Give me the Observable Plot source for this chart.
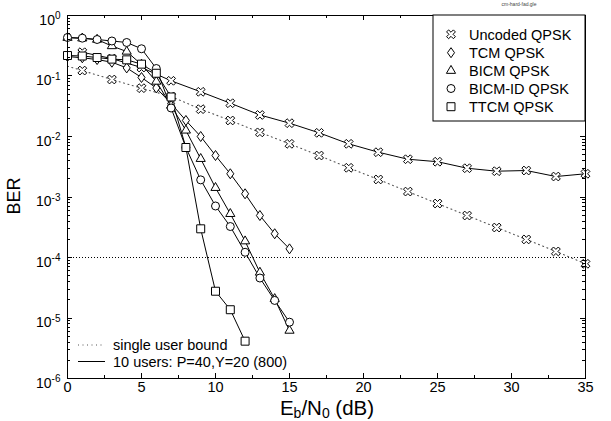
<!DOCTYPE html>
<html><head><meta charset="utf-8">
<script src="https://cdn.jsdelivr.net/npm/d3@7"></script>
<script src="https://cdn.jsdelivr.net/npm/@observablehq/plot@0.6"></script>
<style>
body{margin:0;background:#fff;}
#chart svg{display:block;font-family:"Liberation Sans",Arial,Helvetica,sans-serif;}
</style>
</head><body><div id="chart"></div>
<script>
// ---- data ----
const xCoded = [0,1,2,3,4,5,6,7,8,9,10,11,12,13,14,15];
const tcm    = [0.21,0.20,0.187,0.169,0.136,0.0945,0.0633,0.035,0.0184,0.0100,0.00485,0.00242,0.00113,0.000494,0.000247,0.000139];
const bicm   = [0.43,0.42,0.40,0.313,0.254,0.155,0.081,0.0325,0.0126,0.00428,0.00142,0.000527,0.000186,0.0000565,0.0000207,0.0000062];
const bicmId = [0.433,0.422,0.401,0.379,0.358,0.282,0.133,0.0296,0.00658,0.00192,0.00071,0.000325,0.000122,0.0000458,0.0000195,0.00000853];
const xTtcm  = [0,1,2,3,4,5,6,7,8,9,10,11,12];
const ttcm   = [0.218,0.214,0.202,0.19,0.185,0.157,0.111,0.045,0.00658,0.000298,0.0000277,0.0000137,0.00000414];
const xUncoded = [1,3,5,7,9,11,13,15,17,19,21,23,25,27,29,31,33,35];
const uncoded10 = [0.247,0.194,0.138,0.0833,0.0548,0.0355,0.0227,0.0166,0.0115,0.00757,0.0055,0.00421,0.00383,0.00299,0.00267,0.00274,0.00218,0.00242];
const xSingle = [0,1,3,5,7,9,11,13,15,17,19,21,23,25,27,29,31,33,35];
const uncodedSingle = [0.145,0.123,0.0875,0.0629,0.0458,0.0283,0.0184,0.0117,0.00757,0.00485,0.00304,0.00195,0.00123,0.00078,0.000494,0.000313,0.000199,0.000126,0.0000787];
const boundLevel = [1e-4];
const seriesNames = ["Uncoded QPSK","TCM QPSK","BICM QPSK","BICM-ID QPSK","TTCM QPSK"];
const styleNames = ["single user bound","10 users: P=40,Y=20 (800)"];
const xTickLabels = [0,5,10,15,20,25,30,35];
const yTickValues = [1,1e-1,1e-2,1e-3,1e-4,1e-5,1e-6];

// ---- custom symbols ----
const crossSymbol = {draw(ctx, size){
  const r = Math.sqrt(size/Math.PI), L = r, a = r*0.3, c = Math.SQRT1_2;
  const pts = [[-a,-L],[a,-L],[a,-a],[L,-a],[L,a],[a,a],[a,L],[-a,L],[-a,a],[-L,a],[-L,-a],[-a,-a]];
  pts.forEach(([x,y],i)=>{const px=(x-y)*c, py=(x+y)*c; i?ctx.lineTo(px,py):ctx.moveTo(px,py);});
  ctx.closePath();
}};
const diamondSymbol = {draw(ctx, size){
  const r = Math.sqrt(size/Math.PI), h = r*1.25, w = r*0.88;
  ctx.moveTo(0,-h); ctx.lineTo(w,0); ctx.lineTo(0,h); ctx.lineTo(-w,0); ctx.closePath();
}};

const rows = (xs, ys, name) => xs.map((x,i)=>({x, y: ys[i], name}));
const codedSeries = [
  {name: seriesNames[1], data: rows(xCoded, tcm, seriesNames[1]), symbol: diamondSymbol, r: 4},
  {name: seriesNames[2], data: rows(xCoded, bicm, seriesNames[2]), symbol: "triangle", r: 3.4},
  {name: seriesNames[3], data: rows(xCoded, bicmId, seriesNames[3]), symbol: "circle", r: 4},
  {name: seriesNames[4], data: rows(xTtcm, ttcm, seriesNames[4]), symbol: "square", r: 4.5}
];
const unc10 = rows(xUncoded, uncoded10, "uncoded10");
const uncS = rows(xSingle, uncodedSingle, "uncodedSingle");

const minorY = [];
for (let e=-6;e<0;e++) for (let m=2;m<10;m++) minorY.push(m*Math.pow(10,e));
const majorX = [0,5,10,15,20,25,30,35];
const minorX = [2.5,7.5,12.5,17.5,22.5,27.5,32.5];

const W = 611, H = 421, mL = 67, mR = 26, mT = 15, mB = 43;

const plot = Plot.plot({
  width: W, height: H,
  marginLeft: mL, marginRight: mR, marginTop: mT, marginBottom: mB,
  x: {domain: [0, 35]},
  y: {type: "log", domain: [1e-6, 1]},
  style: {fontFamily: '"Liberation Sans", Arial, sans-serif', color: "black", background: "white"},
  marks: [
    Plot.axisX(xTickLabels, {anchor: "bottom", tickSize: 0, tickPadding: 3, fontSize: 14.5, label: null}),
    Plot.axisY(yTickValues, {anchor: "left", tickSize: 0, tickPadding: 7, dy: 5, fontSize: 14, label: null,
      tickFormat: d => String(Math.round(Math.log10(d)))}),
    Plot.ruleY(boundLevel, {stroke: "black", strokeWidth: 1, strokeDasharray: "1,2"}),
    Plot.line(uncS, {x: "x", y: "y", stroke: "#555", strokeWidth: 1.1, strokeDasharray: "1,3.5"}),
    Plot.line(unc10, {x: "x", y: "y", stroke: "black", strokeWidth: 1}),
    ...codedSeries.map(s => Plot.line(s.data, {x: "x", y: "y", stroke: "black", strokeWidth: 1})),
    Plot.dot(uncS.filter(d => d.x > 0), {x: "x", y: "y", symbol: crossSymbol, r: 4.8, fill: "white", stroke: "black", strokeWidth: 1}),
    Plot.dot(unc10, {x: "x", y: "y", symbol: crossSymbol, r: 4.8, fill: "white", stroke: "black", strokeWidth: 1}),
    ...codedSeries.map(s => Plot.dot(s.data, {x: "x", y: "y", symbol: s.symbol, r: s.r, fill: "white", stroke: "black", strokeWidth: 1})),
    Plot.frame({stroke: "black", strokeWidth: 1})
  ]
});
document.getElementById("chart").appendChild(plot);

const svg = d3.select(plot);
const sx = plot.scale("x"), sy = plot.scale("y");
const x0 = mL, x1 = W - mR, y0 = mT, y1 = H - mB;

// inward ticks on all four sides, positioned through Plot's own scales
const tg = svg.append("g").attr("stroke", "black").attr("stroke-width", 1);
for (const [vals, len] of [[majorX,5],[minorX,3]]) {
  for (const v of vals) {
    const px = Math.round(sx.apply(v)) + 0.5;
    tg.append("line").attr("x1", px).attr("x2", px).attr("y1", y1).attr("y2", y1 - len);
    tg.append("line").attr("x1", px).attr("x2", px).attr("y1", y0).attr("y2", y0 + len);
  }
}
for (const [vals, len] of [[yTickValues,5],[minorY,3]]) {
  for (const v of vals) {
    const py = Math.round(sy.apply(v)) + 0.5;
    tg.append("line").attr("y1", py).attr("y2", py).attr("x1", x0).attr("x2", x0 + len);
    tg.append("line").attr("y1", py).attr("y2", py).attr("x1", x1).attr("x2", x1 - len);
  }
}

// superscript exponents on y tick labels
svg.selectAll('[aria-label="y-axis tick label"] text').each(function(){
  const t = d3.select(this);
  const e = t.text();
  if (e === "") return;
  t.text("10");
  t.append("tspan").attr("font-size", 10).attr("dy", -5.5).text(e);
});

// axis titles
const xt = svg.append("text").attr("x", 327).attr("y", 415).attr("text-anchor", "middle")
  .attr("font-size", 20.5).attr("fill", "black");
xt.append("tspan").text("E");
xt.append("tspan").attr("font-size", 14).attr("dy", 2.5).text("b");
xt.append("tspan").attr("dy", -2.5).text("/N");
xt.append("tspan").attr("font-size", 14).attr("dy", 2.5).text("0");
xt.append("tspan").attr("dy", -2.5).text(" (dB)");
svg.append("text").attr("transform", "translate(20,196) rotate(-90)").attr("text-anchor", "middle")
  .attr("font-size", 18).attr("fill", "black").text("BER");
svg.append("text").attr("x", 519).attr("y", 6).attr("text-anchor", "middle").attr("font-size", 5)
  .attr("fill", "#444").text("cm-hard-fad.gle");

// legend box (top right)
const lg = svg.append("g").attr("text-anchor", "start");
lg.append("rect").attr("x", 433).attr("y", 15).attr("width", 152).attr("height", 106)
  .attr("fill", "white").attr("stroke", "black").attr("stroke-width", 1);
const legendSyms = [[crossSymbol,4.8],[diamondSymbol,4],[d3.symbolTriangle,3.4],[d3.symbolCircle,4],[d3.symbolSquare,4.5]];
const rowsY = [34.3, 52.7, 70.7, 88.5, 106.7];
seriesNames.forEach((n,i)=>{
  const [sym, r] = legendSyms[i];
  lg.append("path").attr("d", d3.symbol(sym, r*r*Math.PI)())
    .attr("transform", `translate(451,${rowsY[i]})`).attr("fill", "white").attr("stroke", "black").attr("stroke-width", 1);
  lg.append("text").attr("x", 469).attr("y", rowsY[i]).attr("dy", "0.36em").attr("font-size", 14.5)
    .attr("text-anchor", "start").attr("fill", "black").text(n);
});

// line-style legend (bottom left)
const lg2 = svg.append("g").attr("text-anchor", "start");
const styleY = [345, 361.5];
lg2.append("line").attr("x1", 78).attr("x2", 105).attr("y1", styleY[0]).attr("y2", styleY[0])
  .attr("stroke", "#555").attr("stroke-width", 1.1).attr("stroke-dasharray", "1,3.5");
lg2.append("line").attr("x1", 78).attr("x2", 105).attr("y1", styleY[1]).attr("y2", styleY[1])
  .attr("stroke", "black").attr("stroke-width", 1);
styleNames.forEach((n,i)=>{
  lg2.append("text").attr("x", 113).attr("y", styleY[i]).attr("dy", "0.36em").attr("font-size", 14.5)
    .attr("text-anchor", "start").attr("fill", "black").text(n);
});
</script>
</body></html>
